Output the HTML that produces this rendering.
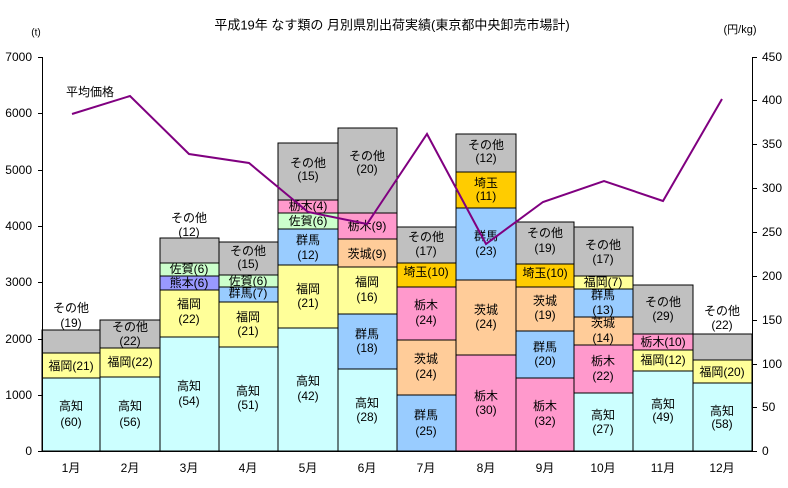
<!DOCTYPE html>
<html><head><meta charset="utf-8"><style>
body{margin:0;background:#fff}
svg{display:block}
text{font-family:"Liberation Sans","Noto Sans CJK JP",sans-serif;font-size:12px;fill:#000}
.c{text-anchor:middle;dominant-baseline:central}
rect{stroke:#000;stroke-width:1}
.k{fill:#CCFFFF}.f{fill:#FFFF99}.o{fill:#C0C0C0}.g{fill:#99CCFF}.t{fill:#FF99CC}.i{fill:#FFCC99}.s{fill:#FFCC00}.sa{fill:#CCFFCC}.ku{fill:#9999FF}
</style></head><body>
<svg width="788" height="488" xmlns="http://www.w3.org/2000/svg">
<text x="392" y="25" class="c" style="font-size:13px">平成19年  なす類の 月別県別出荷実績(東京都中央卸売市場計)</text>
<text x="36" y="33" class="c" style="font-size:10px">(t)</text>
<text x="740" y="30" class="c" style="font-size:11px">(円/kg)</text>
<!-- M1 -->
<rect class="k" x="42" y="378" width="58" height="73"/><text class="c" x="71" y="406">高知</text><text class="c" x="71" y="422">(60)</text>
<rect class="f" x="42" y="353" width="58" height="25"/><text class="c" x="71" y="366">福岡(21)</text>
<rect class="o" x="42" y="330" width="58" height="23"/><text class="c" x="71" y="308">その他</text><text class="c" x="71" y="323">(19)</text>
<!-- M2 -->
<rect class="k" x="100" y="377" width="60" height="74"/><text class="c" x="130" y="406">高知</text><text class="c" x="130" y="422">(56)</text>
<rect class="f" x="100" y="348" width="60" height="29"/><text class="c" x="130" y="362">福岡(22)</text>
<rect class="o" x="100" y="320" width="60" height="28"/><text class="c" x="130" y="327">その他</text><text class="c" x="130" y="341">(22)</text>
<!-- M3 -->
<rect class="k" x="160" y="337" width="59" height="114"/><text class="c" x="189" y="386">高知</text><text class="c" x="189" y="401">(54)</text>
<rect class="f" x="160" y="290" width="59" height="47"/><text class="c" x="189" y="304">福岡</text><text class="c" x="189" y="319">(22)</text>
<rect class="ku" x="160" y="276" width="59" height="14"/><text class="c" x="189" y="283">熊本(6)</text>
<rect class="sa" x="160" y="263" width="59" height="13"/><text class="c" x="189" y="269">佐賀(6)</text>
<rect class="o" x="160" y="238" width="59" height="25"/><text class="c" x="189" y="218">その他</text><text class="c" x="189" y="232">(12)</text>
<!-- M4 -->
<rect class="k" x="219" y="347" width="59" height="104"/><text class="c" x="248" y="391">高知</text><text class="c" x="248" y="405">(51)</text>
<rect class="f" x="219" y="302" width="59" height="45"/><text class="c" x="248" y="317">福岡</text><text class="c" x="248" y="331">(21)</text>
<rect class="g" x="219" y="287" width="59" height="15"/><text class="c" x="248" y="293">群馬(7)</text>
<rect class="sa" x="219" y="275" width="59" height="12"/><text class="c" x="248" y="281">佐賀(6)</text>
<rect class="o" x="219" y="242" width="59" height="33"/><text class="c" x="248" y="251">その他</text><text class="c" x="248" y="264">(15)</text>
<!-- M5 -->
<rect class="k" x="278" y="328" width="60" height="123"/><text class="c" x="308" y="381">高知</text><text class="c" x="308" y="396">(42)</text>
<rect class="f" x="278" y="265" width="60" height="63"/><text class="c" x="308" y="289">福岡</text><text class="c" x="308" y="303">(21)</text>
<rect class="g" x="278" y="229" width="60" height="36"/><text class="c" x="308" y="240">群馬</text><text class="c" x="308" y="255">(12)</text>
<rect class="sa" x="278" y="213" width="60" height="16"/><text class="c" x="308" y="221">佐賀(6)</text>
<rect class="t" x="278" y="200" width="60" height="13"/><text class="c" x="308" y="206">栃木(4)</text>
<rect class="o" x="278" y="143" width="60" height="57"/><text class="c" x="308" y="163">その他</text><text class="c" x="308" y="176">(15)</text>
<!-- M6 -->
<rect class="k" x="338" y="369" width="59" height="82"/><text class="c" x="367" y="403">高知</text><text class="c" x="367" y="417">(28)</text>
<rect class="g" x="338" y="314" width="59" height="55"/><text class="c" x="367" y="334">群馬</text><text class="c" x="367" y="348">(18)</text>
<rect class="f" x="338" y="267" width="59" height="47"/><text class="c" x="367" y="282">福岡</text><text class="c" x="367" y="297">(16)</text>
<rect class="i" x="338" y="239" width="59" height="28"/><text class="c" x="367" y="254">茨城(9)</text>
<rect class="t" x="338" y="213" width="59" height="26"/><text class="c" x="367" y="226">栃木(9)</text>
<rect class="o" x="338" y="128" width="59" height="85"/><text class="c" x="367" y="156">その他</text><text class="c" x="367" y="169">(20)</text>
<!-- M7 -->
<rect class="g" x="397" y="395" width="59" height="56"/><text class="c" x="426" y="415">群馬</text><text class="c" x="426" y="431">(25)</text>
<rect class="i" x="397" y="340" width="59" height="55"/><text class="c" x="426" y="359">茨城</text><text class="c" x="426" y="374">(24)</text>
<rect class="t" x="397" y="287" width="59" height="53"/><text class="c" x="426" y="305">栃木</text><text class="c" x="426" y="320">(24)</text>
<rect class="s" x="397" y="263" width="59" height="24"/><text class="c" x="426" y="272">埼玉(10)</text>
<rect class="o" x="397" y="227" width="59" height="36"/><text class="c" x="426" y="237">その他</text><text class="c" x="426" y="251">(17)</text>
<!-- M8 -->
<rect class="t" x="456" y="355" width="60" height="96"/><text class="c" x="486" y="396">栃木</text><text class="c" x="486" y="410">(30)</text>
<rect class="i" x="456" y="280" width="60" height="75"/><text class="c" x="486" y="310">茨城</text><text class="c" x="486" y="324">(24)</text>
<rect class="g" x="456" y="208" width="60" height="72"/><text class="c" x="486" y="236">群馬</text><text class="c" x="486" y="251">(23)</text>
<rect class="s" x="456" y="172" width="60" height="36"/><text class="c" x="486" y="183">埼玉</text><text class="c" x="486" y="196">(11)</text>
<rect class="o" x="456" y="134" width="60" height="38"/><text class="c" x="486" y="145">その他</text><text class="c" x="486" y="158">(12)</text>
<!-- M9 -->
<rect class="t" x="516" y="378" width="58" height="73"/><text class="c" x="545" y="406">栃木</text><text class="c" x="545" y="421">(32)</text>
<rect class="g" x="516" y="331" width="58" height="47"/><text class="c" x="545" y="347">群馬</text><text class="c" x="545" y="361">(20)</text>
<rect class="i" x="516" y="287" width="58" height="44"/><text class="c" x="545" y="301">茨城</text><text class="c" x="545" y="315">(19)</text>
<rect class="s" x="516" y="264" width="58" height="23"/><text class="c" x="545" y="273">埼玉(10)</text>
<rect class="o" x="516" y="222" width="58" height="42"/><text class="c" x="545" y="233">その他</text><text class="c" x="545" y="248">(19)</text>
<!-- M10 -->
<rect class="k" x="574" y="393" width="59" height="58"/><text class="c" x="603" y="415">高知</text><text class="c" x="603" y="429">(27)</text>
<rect class="t" x="574" y="345" width="59" height="48"/><text class="c" x="603" y="361">栃木</text><text class="c" x="603" y="376">(22)</text>
<rect class="i" x="574" y="317" width="59" height="28"/><text class="c" x="603" y="323">茨城</text><text class="c" x="603" y="338">(14)</text>
<rect class="g" x="574" y="289" width="59" height="28"/><text class="c" x="603" y="295">群馬</text><text class="c" x="603" y="310">(13)</text>
<rect class="f" x="574" y="276" width="59" height="13"/><text class="c" x="603" y="282">福岡(7)</text>
<rect class="o" x="574" y="227" width="59" height="49"/><text class="c" x="603" y="245">その他</text><text class="c" x="603" y="259">(17)</text>
<!-- M11 -->
<rect class="k" x="633" y="371" width="60" height="80"/><text class="c" x="663" y="404">高知</text><text class="c" x="663" y="417">(49)</text>
<rect class="f" x="633" y="350" width="60" height="21"/><text class="c" x="663" y="360">福岡(12)</text>
<rect class="t" x="633" y="334" width="60" height="16"/><text class="c" x="663" y="342">栃木(10)</text>
<rect class="o" x="633" y="285" width="60" height="49"/><text class="c" x="663" y="302">その他</text><text class="c" x="663" y="316">(29)</text>
<!-- M12 -->
<rect class="k" x="693" y="383" width="59" height="68"/><text class="c" x="722" y="411">高知</text><text class="c" x="722" y="424">(58)</text>
<rect class="f" x="693" y="360" width="59" height="23"/><text class="c" x="722" y="372">福岡(20)</text>
<rect class="o" x="693" y="334" width="59" height="26"/><text class="c" x="722" y="311">その他</text><text class="c" x="722" y="325">(22)</text>
<!-- axes -->
<g stroke="#000" stroke-width="1" fill="none">
<path d="M42.5 57V451.5H752.5V57"/>
<path d="M38 57.5h4.5M38 113.5h4.5M38 170.5h4.5M38 226.5h4.5M38 282.5h4.5M38 339.5h4.5M38 395.5h4.5M38 451.5h4.5"/>
<path d="M752.5 57.5h4.5M752.5 100.5h4.5M752.5 144.5h4.5M752.5 188.5h4.5M752.5 232.5h4.5M752.5 276.5h4.5M752.5 320.5h4.5M752.5 364.5h4.5M752.5 407.5h4.5M752.5 451.5h4.5"/>
</g>
<g style="text-anchor:end;dominant-baseline:central">
<text x="32" y="57">7000</text><text x="32" y="113">6000</text><text x="32" y="170">5000</text><text x="32" y="226">4000</text><text x="32" y="282">3000</text><text x="32" y="339">2000</text><text x="32" y="395">1000</text><text x="32" y="451">0</text>
</g>
<g style="dominant-baseline:central">
<text x="762" y="57">450</text><text x="762" y="100">400</text><text x="762" y="144">350</text><text x="762" y="188">300</text><text x="762" y="232">250</text><text x="762" y="276">200</text><text x="762" y="320">150</text><text x="762" y="364">100</text><text x="762" y="407">50</text><text x="762" y="451">0</text>
</g>
<g class="c">
<text class="c" x="71" y="468">1月</text><text class="c" x="130" y="468">2月</text><text class="c" x="189" y="468">3月</text><text class="c" x="248" y="468">4月</text><text class="c" x="308" y="468">5月</text><text class="c" x="367" y="468">6月</text><text class="c" x="426" y="468">7月</text><text class="c" x="486" y="468">8月</text><text class="c" x="545" y="468">9月</text><text class="c" x="603" y="468">10月</text><text class="c" x="663" y="468">11月</text><text class="c" x="722" y="468">12月</text>
</g>
<polyline points="72,114 130,96 189,154 249,163 308,212 367,224 427,134 486,244 543,202 604,181 663,201 722,99" fill="none" stroke="#800080" stroke-width="2"/>
<text x="66" y="92" style="dominant-baseline:central">平均価格</text>
</svg>
</body></html>
